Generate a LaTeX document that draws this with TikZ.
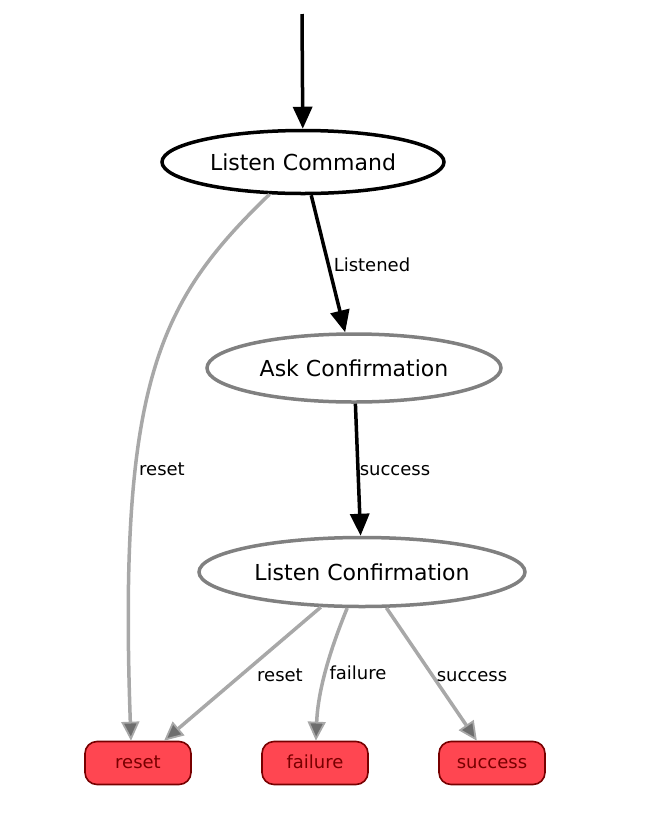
\documentclass[tikz,border=0pt]{standalone}
\usepackage{fontspec}
\setmainfont{DejaVu Sans}
\usepackage{tikz}
\usetikzlibrary{shapes.geometric,arrows.meta}
\definecolor{edgegray}{RGB}{168,168,168}
\definecolor{linegray}{RGB}{128,128,128}
\definecolor{tipgray}{RGB}{110,110,110}
\definecolor{boxred}{RGB}{255,70,81}
\definecolor{boxline}{RGB}{120,0,0}

\begin{document}
\begin{tikzpicture}[
     x = 1pt, y = -1pt,
     every node/.style = {inner sep = 0pt},
     state/.style = {
     	ellipse, draw = linegray, line width = 3.5pt,
     	font = \fontsize{22}{26}\selectfont},
     outcome/.style = {
     	rectangle, rounded corners = 12pt, draw = boxline, line width = 1.6pt,
     	fill = boxred, text = boxline, minimum width = 106pt,
     	minimum height = 43pt, text height = 13pt, text depth = 3pt,
     	font = \fontsize{18}{22}\selectfont},
     lbl/.style = {text height = 13pt, text depth = 3pt,
     	font = \fontsize{18}{22}\selectfont},
     main/.style = {black, line width = 3.5pt,
     	-{Triangle[length = 22pt, width = 19pt]}},
     side/.style = {edgegray, line width = 3.5pt,
     	-{Triangle[length = 19pt, width = 18pt, color = edgegray,
     	fill = tipgray, line width = 1.8pt]}}
     ]
       \useasboundingbox (0,0) rectangle (654,815);

       \coordinate (init) at (302,14);
       \node[state, draw = black, minimum width = 282pt,
             minimum height = 63pt] (LC) at (303,162) {Listen Command}; % 0
       \node[state, minimum width = 294pt,
             minimum height = 68pt] (AC) at (354,368) {Ask Confirmation}; % 1
       \node[state, minimum width = 326pt,
             minimum height = 69pt] (LF) at (362,572) {Listen Confirmation}; % 2
       \node[outcome] (reset) at (138,763) {reset}; % 3
       \node[outcome] (failure) at (315,763) {failure}; % 4
       \node[outcome] (success) at (492,763) {success}; % 5

       \draw[main] (init)--(LC);
       \draw[main] (LC)--(AC);
       \draw[main] (AC)--(LF);
       \draw[side] (LC) .. controls (160,300) and (118,380) .. ([xshift=-7pt]reset.north);
       \draw[side] (LF)--(reset);
       \draw[side] (LF) .. controls (330,650) and (318,690) .. (failure);
       \draw[side] (LF)--(success);

       \node[lbl] (lListened) at (372,266) {Listened};
       \node[lbl] (lSuccessA) at (395,470) {success};
       \node[lbl] (lResetC) at (162,470) {reset};
       \node[lbl] (lResetF) at (280,676) {reset};
       \node[lbl] (lFailure) at (358,674) {failure};
       \node[lbl] (lSuccessF) at (472,676) {success};

      \end{tikzpicture}
\end{document}
